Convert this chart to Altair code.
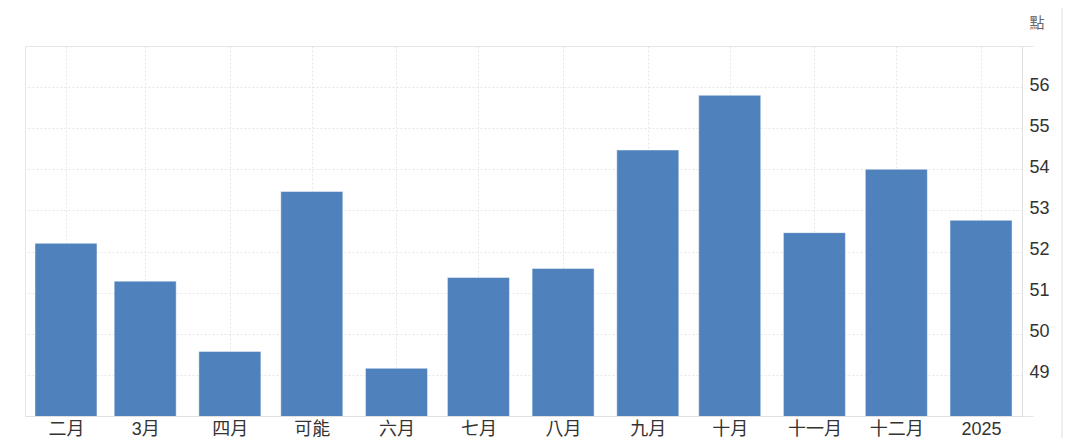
import json
import altair as alt
import pandas as pd

# ---- data ----
dates = ["2024-02-01", "2024-03-01", "2024-04-01", "2024-05-01", "2024-06-01", "2024-07-01",
         "2024-08-01", "2024-09-01", "2024-10-01", "2024-11-01", "2024-12-01", "2025-01-01"]
labels = ["二月", "3月", "四月", "可能", "六月", "七月", "八月", "九月", "十月", "十一月", "十二月", "2025"]
values = [52.2, 51.28, 49.57, 53.46, 49.16, 51.37, 51.59, 54.47, 55.8, 52.46, 54.0, 52.76]
y_ticks = [48, 49, 50, 51, 52, 53, 54, 55, 56, 57]
unit = "點"

df = pd.DataFrame({"date": dates, "label": labels, "value": values})

# month index -> label lookup for the axis
month_labels = [""] * 12
for d, l in zip(dates, labels):
    month_labels[int(d[5:7]) - 1] = l
label_expr = json.dumps(month_labels, ensure_ascii=False) + "[utcmonth(datum.value)]"

def dt(s):
    y, m, d = (int(p) for p in s.split("-"))
    return alt.DateTime(year=y, month=m, date=d, utc=True)

FONT = "'Liberation Sans', 'Noto Sans CJK TC', sans-serif"
GRID = "#e6e6e6"

bars = alt.Chart(df).mark_bar(
    width=62, color="#4f81bd", stroke="#ffffff", strokeOpacity=0.45, strokeWidth=1, clip=True
).encode(
    x=alt.X(
        "date:T",
        scale=alt.Scale(type="utc", domain=[dt("2024-01-17"), dt("2025-01-16")],
                        nice=False, padding=0),
        axis=alt.Axis(
            values=[dt(d) for d in dates],
            labelExpr=label_expr,
            grid=True, gridDash=[2, 2], gridColor=GRID,
            domainColor="#e0e0e0", ticks=False,
            labelFontSize=18, labelColor="#333333", labelPadding=4, labelAngle=0,
            labelFlush=False, labelOverlap=False,
            title=None,
        ),
    ),
    y=alt.Y(
        "value:Q",
        scale=alt.Scale(domain=[48, 57], zero=False, nice=False),
        axis=alt.Axis(
            orient="right",
            values=y_ticks,
            labelExpr="datum.value == 48 || datum.value == 57 ? '' : datum.label",
            grid=True, gridDash=[2, 2], gridColor=GRID,
            domainColor="#e0e0e0",
            ticks=True, tickSize=11,
            tickColor={"condition": {"test": "datum.value == 48 || datum.value == 57", "value": GRID},
                       "value": "rgba(0,0,0,0)"},
            labelFontSize=18, labelColor="#333333", labelPadding=-4, labelOffset=-2,
            labelFlush=False,
            title=unit, titleAngle=0, titleX=7, titleY=-24,
            titleAlign="left", titleBaseline="middle",
            titleColor="#666666", titleFontSize=15, titleFontWeight="normal",
        ),
    ),
)

border = alt.Chart(df).mark_rule(color="#eeeeee", strokeWidth=1).encode(
    x=alt.value(1037), y=alt.value(-46), y2=alt.value(392)
)

chart = alt.layer(bars, border).properties(
    width=997, height=370,
    padding={"left": 17, "top": 38, "right": 42, "bottom": 22},
    autosize="none",
).configure(font=FONT).configure_view(stroke=GRID)

chart.save("out.html", embed_options={"renderer": "svg", "actions": False})
